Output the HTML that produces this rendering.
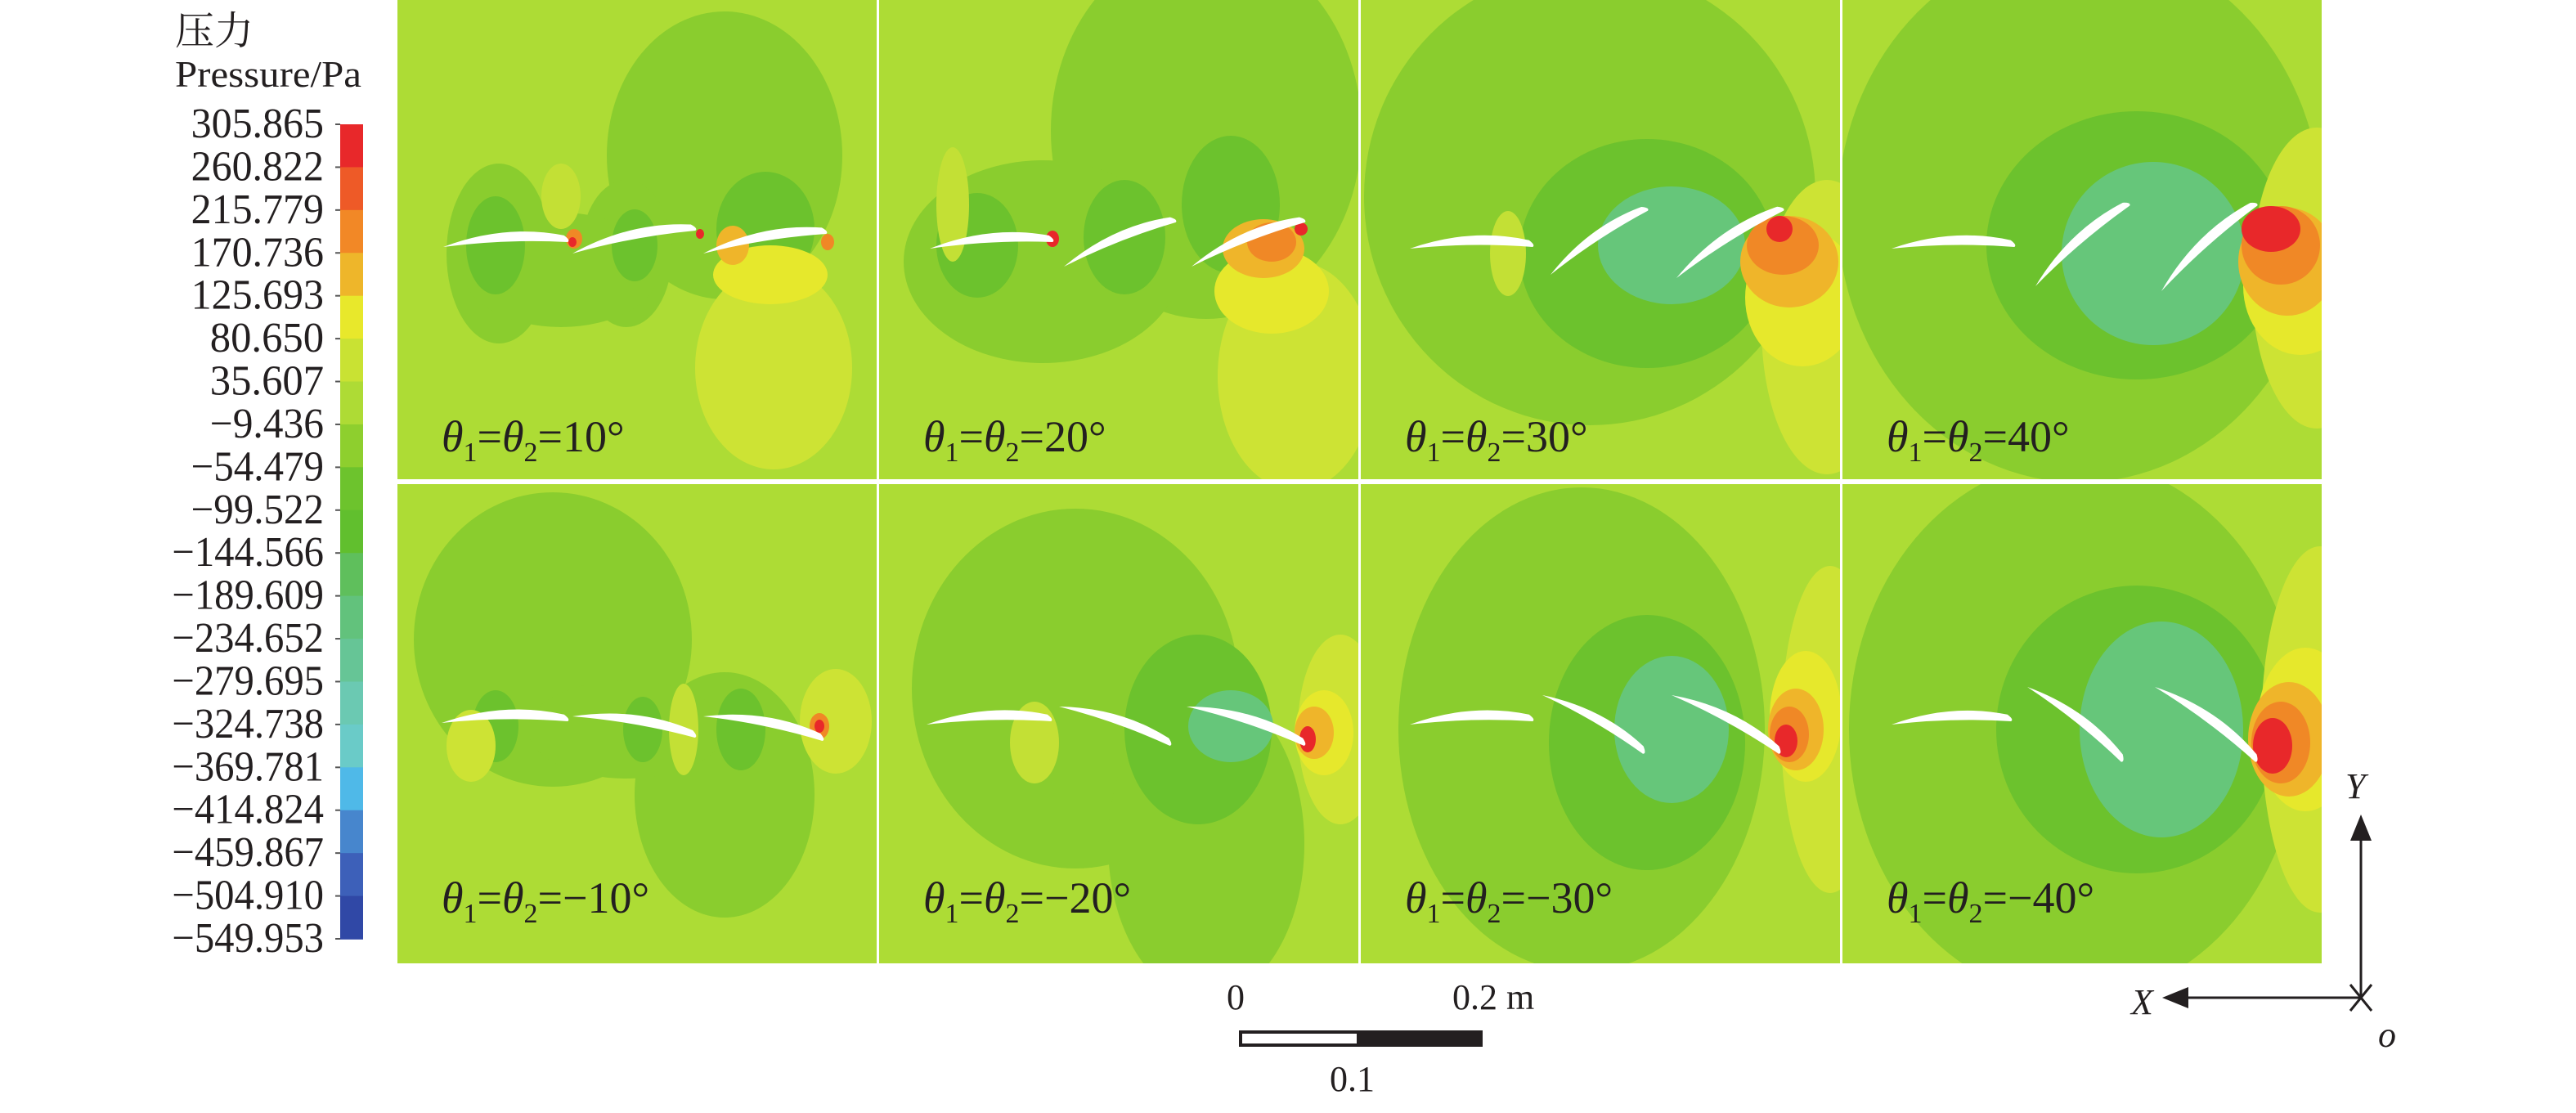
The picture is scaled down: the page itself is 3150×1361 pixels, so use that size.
<!DOCTYPE html>
<html><head><meta charset="utf-8"><style>
html,body{margin:0;padding:0;background:#fff;}
svg{display:block;}
text{font-family:"Liberation Serif","Noto Serif CJK SC",serif;fill:#231f20;}
</style></head><body>
<svg id="fig" width="3150" height="1361" viewBox="0 0 1575 680.5" xmlns="http://www.w3.org/2000/svg">
<defs>
<clipPath id="cp0"><rect x="0" y="0" width="293" height="293"/></clipPath>
</defs>
<g id="legend">
<text x="107" y="27" font-size="24" font-family="'Liberation Serif','Noto Serif CJK SC',serif">压力</text>
<text x="107" y="53" font-size="23" textLength="114" lengthAdjust="spacingAndGlyphs">Pressure/Pa</text>
</g>
<g id="panels"></g>
<g id="scalebar">
<text x="750" y="617" font-size="22">0</text>
<text x="888" y="617" font-size="22">0.2 m</text>
<rect x="757.5" y="630" width="149" height="10" fill="#231f20"/>
<rect x="759.5" y="632" width="70" height="6" fill="#fff"/>
<text x="813" y="667" font-size="22">0.1</text>
</g>
<g id="axes">
<line x1="1443.5" y1="512" x2="1443.5" y2="610" stroke="#231f20" stroke-width="1.5"/>
<polygon points="1443.5,498 1437,514 1450,514" fill="#231f20"/>
<line x1="1336" y1="610" x2="1443.5" y2="610" stroke="#231f20" stroke-width="1.5"/>
<polygon points="1322,610 1338,603.5 1338,616.5" fill="#231f20"/>
<path d="M1437,602 L1450,618 M1450,602 L1437,618" stroke="#231f20" stroke-width="1.5"/>
<text x="1434" y="488" font-size="22" font-style="italic">Y</text>
<text x="1303" y="620" font-size="22" font-style="italic">X</text>
<text x="1454" y="640" font-size="22" font-style="italic">o</text>
</g>
</svg>
<script>
const tickLabels=["305.865","260.822","215.779","170.736","125.693","80.650","35.607","\u22129.436","\u221254.479","\u221299.522","\u2212144.566","\u2212189.609","\u2212234.652","\u2212279.695","\u2212324.738","\u2212369.781","\u2212414.824","\u2212459.867","\u2212504.910","\u2212549.953"];
const bandColors=["#e8282a","#ee5a27","#f28826","#eeb62a","#e8e82b","#c9e233","#aedb35","#8ecf2e","#6dc32d","#61bf2e","#5fbf5c","#62c27c","#66c596","#6bc9b2","#6acbc8","#4fb9e8","#4786cd","#3d60b9","#3048a6"];
const panelAngles=["10","20","30","40","\u221210","\u221220","\u221230","\u221240"];
const NS="http://www.w3.org/2000/svg";
const leg=document.getElementById('legend');
const barX=208,barW=14,barTop=76,barBot=574;
const band=(barBot-barTop)/bandColors.length;
function mk(tag,attrs,parent){const e=document.createElementNS(NS,tag);for(const k in attrs)e.setAttribute(k,attrs[k]);parent.appendChild(e);return e;}
bandColors.forEach((c,i)=>{
  const r=mk('rect',{x:barX,y:barTop+i*band,width:barW,height:band+0.4,fill:c},leg);
  
  
});
tickLabels.forEach((t,i)=>{
  const y=barTop+i*band;
  const tk=mk('line',{x1:barX-3,y1:y,x2:barX,y2:y,stroke:'#555','stroke-width':1},leg);
  
  
  const tx=mk('text',{x:198,y:y+8,'font-size':26,'text-anchor':'end',textLength:t.length*11.6,lengthAdjust:'spacingAndGlyphs'},leg);
  tx.textContent=t;
  
  
});
const MG="#8acd2e",DG="#6cc22d",TG="#66c67a",YL="#cde334",BY="#e6e82c",OY="#efb52a",OR="#f08826",RD="#e8282a",LY="#c3e035";
const panelBlobs=[
 [[200,95,72,88,MG],[62,155,32,55,MG],[140,155,28,45,MG],[100,165,60,35,MG],[60,150,18,30,DG],[145,150,14,22,DG],[225,140,30,35,DG],[230,225,48,62,YL],[228,168,35,18,BY],[100,120,12,20,LY],[205,150,10,12,OY],[108,146,5,6,OR],[263,148,4,5,OR],[107,148,2.5,3,RD],[185,143,2.5,3,RD]],
 [[200,80,95,115,MG],[100,160,85,62,MG],[60,150,25,32,DG],[150,145,25,35,DG],[215,125,30,42,DG],[45,125,10,35,LY],[255,230,48,70,YL],[240,178,35,26,BY],[235,152,25,18,OY],[240,148,15,12,OR],[106,146,4,5,RD],[258,140,4,4,RD]],
 [[140,120,138,140,MG],[175,155,78,70,DG],[190,150,45,36,TG],[90,155,11,26,LY],[285,200,40,90,YL],[270,182,35,42,BY],[262,160,30,28,OY],[258,150,22,18,OR],[256,140,8,8,RD]],
 [[145,130,148,165,MG],[180,150,92,82,DG],[190,155,56,56,TG],[290,170,40,92,YL],[280,175,35,42,BY],[272,160,30,33,OY],[268,150,24,24,OR],[262,140,18,14,RD]],
 [[95,95,85,90,MG],[200,190,55,75,MG],[140,150,60,30,MG],[60,148,14,22,DG],[150,150,12,20,DG],[210,150,15,25,DG],[45,160,15,22,YL],[175,150,9,28,LY],[268,145,22,32,YL],[258,148,6,8,OR],[258,148,3,4,RD]],
 [[120,125,100,110,MG],[200,220,60,95,MG],[195,150,45,58,DG],[215,148,26,22,TG],[95,158,15,25,LY],[282,150,26,58,YL],[272,152,18,26,BY],[266,152,12,16,OY],[262,156,5,8,RD]],
 [[135,150,112,148,MG],[175,158,60,78,DG],[190,150,35,45,TG],[287,150,30,100,YL],[272,142,22,40,BY],[266,150,17,25,OY],[262,153,12,17,OR],[260,157,7,10,RD]],
 [[142,150,138,165,MG],[180,150,86,88,DG],[195,150,50,66,TG],[292,150,36,112,YL],[283,150,30,50,BY],[273,156,25,35,OY],[268,158,18,25,OR],[263,160,12,17,RD]]
];
const panelFoils=[
 [[28,151,104,147],[107,155,182,140],[187,155,262,142]],
 [[31,152,106,147],[113,163,181,135],[191,163,260,135]],
 [[30,152,105,150],[116,168,175,128],[193,170,258,128]],
 [[30,152,105,150],[118,175,175,125],[195,178,253,125]],
 [[27,146,104,144],[107,142,182,154],[187,142,260,156]],
 [[29,147,105,144],[110,136,178,159],[188,136,260,159]],
 [[30,147,105,144],[111,129,173,164],[190,129,256,164]],
 [[30,147,103,144],[113,124,171,169],[191,124,253,169]]
];
const colX=[243,537.5,832,1126.5],rowY=[0,296];
const PW=293,PH=293;
const pg=document.getElementById('panels');
function foilPath(a){
  const [x1,y1,x2,y2]=a;const dx=x2-x1,dy=y2-y1,L=Math.hypot(dx,dy);
  const ux=dx/L,uy=dy/L;let nx=uy,ny=-ux; if(ny>0){nx=-nx;ny=-ny;}
  const mx=(x1+x2)/2,my=(y1+y2)/2;
  const t=L*0.11,c=L*0.05;
  const cu=[mx+nx*(c+t),my+ny*(c+t)],cl=[mx+nx*(c-t*0.1),my+ny*(c-t*0.1)];
  const ex=[x2-ux*2+nx*3.2,y2-uy*2+ny*3.2];
  return `M${x1},${y1} Q${cu[0]},${cu[1]} ${ex[0]},${ex[1]} Q${x2+ux*2},${y2+uy*2} ${x2-nx*1},${y2-ny*1} Q${cl[0]},${cl[1]} ${x1},${y1} Z`;
}
panelAngles.forEach((ang,i)=>{
  const ox=colX[i%4],oy=rowY[Math.floor(i/4)];
  const g=mk('g',{transform:`translate(${ox},${oy})`},pg);
  
  
  const cg=mk('g',{'clip-path':'url(#cp0)'},g);
  const bg=mk('rect',{x:0,y:0,width:PW,height:PH,fill:'#addc35'},cg);
  
  
  panelBlobs[i].forEach(b=>{
    const e=mk('ellipse',{cx:b[0],cy:b[1],rx:b[2],ry:b[3],fill:b[4]},cg);
    
    
  });
  panelFoils[i].forEach(f=>{
    const p=mk('path',{d:foilPath(f),fill:'#fff'},cg);
    
    
  });
  const ly=i<4?276:262;
  const t=mk('text',{x:27,y:ly,'font-size':27},g);
  
  
  t.innerHTML=`<tspan font-style="italic">θ</tspan><tspan font-size="17" dy="6">1</tspan><tspan dy="-6">=</tspan><tspan font-style="italic">θ</tspan><tspan font-size="17" dy="6">2</tspan><tspan dy="-6">=${ang}°</tspan>`;
});
</script>
</body></html>
